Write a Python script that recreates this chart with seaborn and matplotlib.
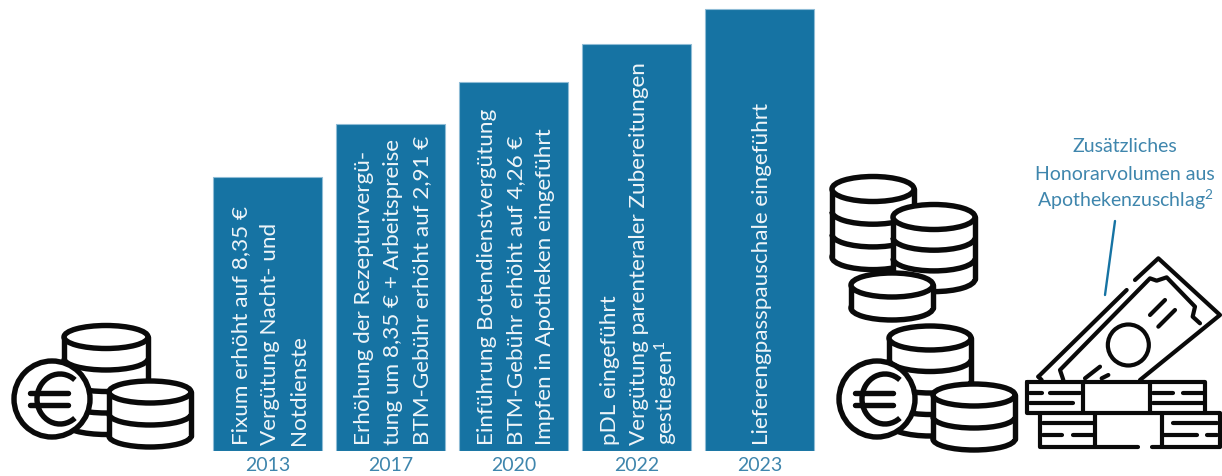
import numpy as np
import pandas as pd
import matplotlib
matplotlib.use("Agg")
import matplotlib.pyplot as plt
from matplotlib.patches import Ellipse, Circle, Rectangle, Arc
import seaborn as sns

sns.set_theme(style="white")
plt.rcParams["font.family"] = ["Lato", "Open Sans", "DejaVu Sans"]
plt.rcParams["mathtext.default"] = "regular"

years = ["2013", "2017", "2020", "2022", "2023"]
honorar = [274, 327, 369, 407, 442]
measures = [
    ["Fixum erhöht auf 8,35 €", "Vergütung Nacht- und", "Notdienste"],
    ["Erhöhung der Rezepturvergü-", "tung um 8,35 € + Arbeitspreise", "BTM-Gebühr erhöht auf 2,91 €"],
    ["Einführung Botendienstvergütung", "BTM-Gebühr erhöht auf 4,26 €", "Impfen in Apotheken eingeführt"],
    ["pDL eingeführt", "Vergütung parenteraler Zubereitungen", "gestiegen$^{1}$"],
    ["Lieferengpasspauschale eingeführt"],
]
callout = ["Zusätzliches", "Honorarvolumen aus", "Apothekenzuschlag$^{2}$"]

BAR = "#1673a3"
EDGE = "#8fbcd6"
LABEL = "#3f86ad"
INK = "#0a0a0a"

fig = plt.figure(figsize=(12.22, 4.76), dpi=100, facecolor="white")
ax = fig.add_axes([0, 25 / 476, 1, 451 / 476])

df = pd.DataFrame({"Jahr": years, "Honorar": honorar})
sns.barplot(data=df, x="Jahr", y="Honorar", color=BAR, saturation=1, width=0.88,
            edgecolor=EDGE, linewidth=0.8, ax=ax)
step = 123.0
ax.set_xlim(-267.5 / step, (1222 - 267.5) / step)
ax.set_ylim(0, 451)
ax.set_xlabel("")
ax.set_ylabel("")
ax.set_yticks([])
ax.tick_params(axis="x", length=0, pad=4.5, labelsize=14, labelcolor=LABEL)
sns.despine(ax=ax, left=True, bottom=True)

# rotated measure captions inside each bar, one baseline per line
for i, lines in enumerate(measures):
    offsets = [-20.5, 8.5, 37.5] if len(lines) == 3 else [8.5]
    for off, line in zip(offsets, lines):
        ax.text(i + off / step, 6, line, rotation=90, rotation_mode="anchor",
                ha="left", va="baseline", color="#eef5f9", fontsize=16.2)

# pictograms live on a pixel-based overlay
ov = fig.add_axes([0, 0, 1, 1], facecolor="none")
ov.set_xlim(0, 1222)
ov.set_ylim(476, 0)
ov.axis("off")
LW = 3.9


def coin_stack(cx, top, rx, ry, layers, spacing, z):
    """Stack of coins seen from slightly above."""
    bottom = top + layers * spacing
    ov.add_patch(Ellipse((cx, bottom), 2 * rx, 2 * ry, fc="white", ec=INK, lw=LW, zorder=z))
    ov.add_patch(Rectangle((cx - rx, top), 2 * rx, bottom - top, fc="white", ec="none", zorder=z + 0.1))
    ov.plot([cx - rx, cx - rx], [top, bottom], color=INK, lw=LW, zorder=z + 0.2)
    ov.plot([cx + rx, cx + rx], [top, bottom], color=INK, lw=LW, zorder=z + 0.2)
    for k in range(1, layers):
        ov.add_patch(Arc((cx, top + k * spacing), 2 * rx, 2 * ry, theta1=0, theta2=180,
                         ec=INK, lw=LW, zorder=z + 0.3))
    ov.add_patch(Ellipse((cx, top), 2 * rx, 2 * ry, fc="white", ec=INK, lw=LW, zorder=z + 0.4))


def euro_coin(cx, cy, r, z):
    ov.add_patch(Circle((cx, cy), r, fc="white", ec=INK, lw=LW, zorder=z))
    ov.add_patch(Arc((cx + 8, cy), 46, 50, theta1=52, theta2=308, ec=INK, lw=LW, zorder=z + 0.1))
    ov.plot([cx - 22, cx + 16], [cy - 6, cy - 6], color=INK, lw=LW, solid_capstyle="round", zorder=z + 0.1)
    ov.plot([cx - 22, cx + 16], [cy + 6, cy + 6], color=INK, lw=LW, solid_capstyle="round", zorder=z + 0.1)


# coins left of the bars
coin_stack(106, 337, 42, 11.5, 4, 21.5, 2)
euro_coin(52, 399, 38, 3)
coin_stack(150, 392, 41, 11, 2, 22, 4)

# coins right of the bars
coin_stack(873, 189, 41, 12.5, 3, 22.7, 2)
coin_stack(934, 217, 41, 12.5, 3, 20.7, 3)
coin_stack(892, 285, 41, 12, 1, 23, 4)
coin_stack(930, 338, 41, 12, 4, 21.5, 5)
euro_coin(877, 399, 38, 6)
coin_stack(974, 395, 41, 11, 2, 22, 7)


def money(points, lw=3.0):
    """Polyline given relative to the banknote pictogram's own grid."""
    pts = np.asarray(points, dtype=float) / 3 + np.array([1020, 130])
    ov.plot(pts[:, 0], pts[:, 1], color=INK, lw=lw, solid_capstyle="round",
            solid_joinstyle="round", zorder=3)


# banknote
money([(55, 740), (320, 480)])
money([(345, 450), (415, 385), (600, 555), (360, 750)])
money([(65, 750), (55, 740)])
money([(130, 750), (120, 720), (390, 445), (410, 452), (440, 442), (525, 530),
       (518, 560), (540, 580)])
money([(390, 555), (435, 510)])
money([(415, 590), (465, 540)])
money([(195, 745), (240, 710)])
money([(245, 745), (265, 735)])
centre = np.array([325, 645]) / 3 + np.array([1020, 130])
ov.add_patch(Circle(centre, 20.5, fc="none", ec=INK, lw=3.0, zorder=3))

# banded bundles below the note
money([(20, 755), (555, 755), (555, 850), (20, 850), (20, 755)])
money([(60, 850), (60, 950), (355, 950)])
money([(395, 950), (600, 950), (600, 850), (555, 850)])
for x, y0, y1 in [(190, 755, 850), (390, 755, 850), (225, 850, 950), (425, 850, 950)]:
    money([(x, y0), (x, y1)])
for seg in [(30, 65, 790), (90, 180, 790), (30, 160, 820), (400, 460, 790), (490, 550, 790),
            (400, 550, 820), (70, 220, 880), (70, 125, 915), (160, 220, 915),
            (460, 590, 880), (430, 530, 915), (560, 590, 915)]:
    money([(seg[0], seg[2]), (seg[1], seg[2])])

# callout above the banknote
for y, line in zip([147, 174, 200], callout):
    ov.text(1125, y, line, ha="center", va="center", color=LABEL, fontsize=14)
ov.plot([1115, 1105], [221, 295], color=BAR, lw=1.7, zorder=4)

fig.savefig("out.png", dpi=100, facecolor="white")
